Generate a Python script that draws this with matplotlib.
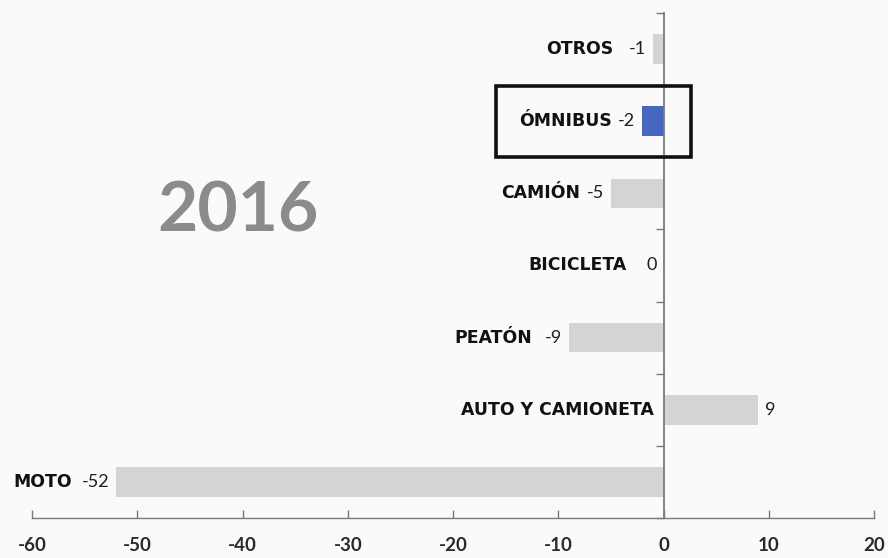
import matplotlib
matplotlib.use("Agg")
import matplotlib.pyplot as plt
from matplotlib.patches import Rectangle

categories = ["OTROS", "ÓMNIBUS", "CAMIÓN", "BICICLETA", "PEATÓN", "AUTO Y CAMIONETA", "MOTO"]
values = [-1, -2, -5, 0, -9, 9, -52]
highlight = "ÓMNIBUS"
year_label = "2016"
x_ticks = [-60, -50, -40, -30, -20, -10, 0, 10, 20]

# styling
name_gaps = [16, 6, 7, 20, 12, 9, 10]  # px gap between name and value
plt.rcParams['axes.unicode_minus'] = False
FONT = ['Lato', 'DejaVu Sans']
NAME_FONT = ['DejaVu Sans']
BG = '#fafafa'
GRAY_BAR = '#d3d4d6'
BLUE = '#4766bf'
AX_COL = '#7a7a7a'

fig = plt.figure(figsize=(8.88, 5.58), dpi=100, facecolor=BG)
ax = fig.add_axes([32/888, 40/558, (874-32)/888, (545-40)/558], facecolor=BG)

n = len(categories)
ypos = [n - 1 - i for i in range(n)]
colors = [BLUE if c == highlight else GRAY_BAR for c in categories]
ax.barh(ypos, values, height=0.41, color=colors, zorder=2)

ax.set_xlim(x_ticks[0], x_ticks[-1])
ax.set_ylim(-0.5, n - 0.5)

for sp in ['top', 'right']:
    ax.spines[sp].set_visible(False)
ax.spines['left'].set_position(('data', 0))
ax.spines['left'].set_color(AX_COL)
ax.spines['left'].set_linewidth(1.3)
ax.spines['bottom'].set_color(AX_COL)
ax.spines['bottom'].set_linewidth(1.0)
ax.spines['left'].set_zorder(3)

ax.set_xticks(x_ticks)
ax.set_xticklabels([str(t) for t in x_ticks], fontsize=13.5, family=FONT,
                   fontweight='bold', color='#2a2a2a')
ax.tick_params(axis='x', direction='in', length=6, width=1.0, color=AX_COL, pad=14)
ax.set_yticks([k - 0.5 for k in range(n + 1)])
ax.set_yticklabels([])
ax.tick_params(axis='y', direction='out', length=6, width=1.0, color=AX_COL)

for i, (cat, v) in enumerate(zip(categories, values)):
    y = ypos[i]
    if v > 0:
        ax.annotate(str(v), xy=(v, y), xytext=(7 * 0.72, 0), textcoords='offset points',
                    ha='left', va='center', fontsize=13, family=FONT, color='#1e1e1e')
        ax.annotate(cat, xy=(0, y), xytext=(-10 * 0.72, 0), textcoords='offset points',
                    ha='right', va='center', fontsize=12.4, family=NAME_FONT,
                    fontweight='bold', color='#111111')
    else:
        vt = ax.annotate(str(v), xy=(v, y), xytext=(-7 * 0.72, 0), textcoords='offset points',
                         ha='right', va='center', fontsize=13, family=FONT, color='#1e1e1e')
        ax.annotate(cat, xy=(0, 0.5), xycoords=vt, xytext=(-name_gaps[i] * 0.72, 0),
                    textcoords='offset points', ha='right', va='center', fontsize=12.4,
                    family=NAME_FONT, fontweight='bold', color='#111111')

hi = categories.index(highlight)
yh = ypos[hi]
ax.add_patch(Rectangle((-15.9, yh - 0.49), 18.55, 0.98, fill=False, edgecolor='#111111',
                       linewidth=2.6, clip_on=False, zorder=5))

ax.text(238 / 888, 1 - 212 / 558, year_label, transform=fig.transFigure, ha='center',
        va='center', fontsize=50, fontweight='bold', family=FONT, color='#8b8b8d')

fig.savefig('out.png', dpi=100, facecolor=BG)
